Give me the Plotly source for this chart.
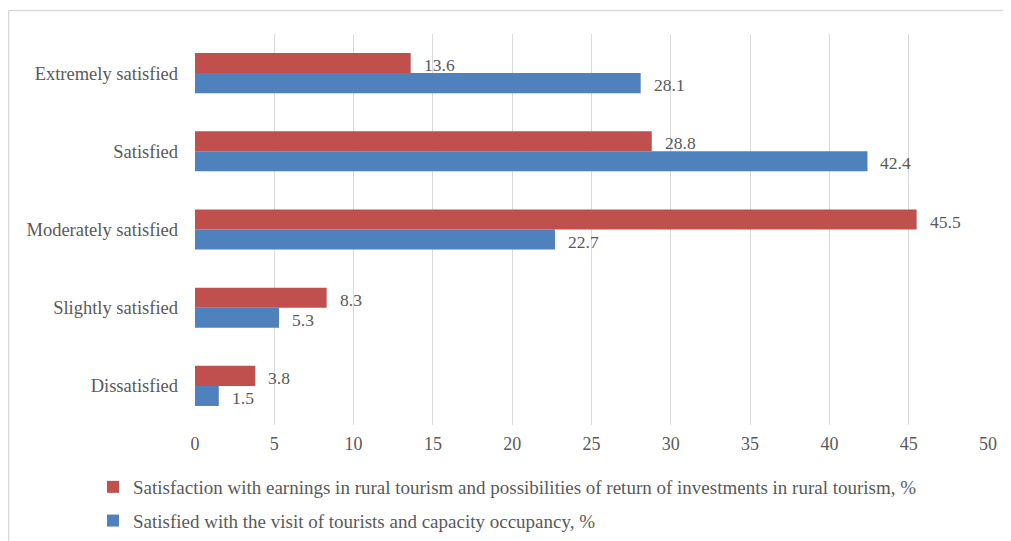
import plotly.graph_objects as go

categories = ["Extremely satisfied", "Satisfied", "Moderately satisfied", "Slightly satisfied", "Dissatisfied"]
earnings = [13.6, 28.8, 45.5, 8.3, 3.8]
visits = [28.1, 42.4, 22.7, 5.3, 1.5]
name_earn = "Satisfaction with earnings in rural tourism and possibilities of return of investments in rural tourism, %"
name_visit = "Satisfied with the visit of tourists and capacity occupancy, %"
x_ticks = [0, 5, 10, 15, 20, 25, 30, 35, 40, 45, 50]

RED = "#C0504D"
BLUE = "#4F81BD"
TXT = "#595959"
GRID = "#D9D9D9"
FONT = "Liberation Serif"

fig = go.Figure()
fig.add_trace(go.Bar(y=categories, x=visits, orientation="h", name=name_visit,
                     legendgroup="visit", legendrank=2,
                     marker=dict(color=BLUE, line=dict(width=0))))
fig.add_trace(go.Bar(y=categories, x=earnings, orientation="h", name=name_earn,
                     legendgroup="earn", legendrank=1,
                     marker=dict(color=RED, line=dict(width=0))))

annotations = []
for c, v in zip(categories, earnings):
    annotations.append(dict(x=v, y=c, xref="x", yref="y", text=f"{v}", showarrow=False,
                            xanchor="left", yanchor="middle", xshift=11, yshift=8,
                            font=dict(family=FONT, size=17.5, color=TXT)))
for c, v in zip(categories, visits):
    annotations.append(dict(x=v, y=c, xref="x", yref="y", text=f"{v}", showarrow=False,
                            xanchor="left", yanchor="middle", xshift=11, yshift=-12,
                            font=dict(family=FONT, size=17.5, color=TXT)))

# page is offset by the 8px body margin
OFF = 8
W, H = 1011 - OFF, 541 - OFF
L, R, T, B = 195 - OFF, 23, 34 - OFF, 116
pw, ph = W - L - R, H - T - B
def px_x(p):
    return (p - OFF - L) / pw
def px_y(p):
    return (H - B - (p - OFF)) / ph

shapes = [
    dict(type="line", xref="paper", yref="paper", x0=px_x(8.5), x1=px_x(1030),
         y0=px_y(10.5), y1=px_y(10.5), line=dict(color=GRID, width=1.5)),
    dict(type="line", xref="paper", yref="paper", x0=px_x(8.5), x1=px_x(8.5),
         y0=px_y(10.5), y1=px_y(580), line=dict(color=GRID, width=1.5)),
]

fig.update_layout(
    width=W, height=H,
    margin=dict(l=L, r=R, t=T, b=B, autoexpand=False),
    paper_bgcolor="white", plot_bgcolor="white",
    barmode="group", bargap=0.487, bargroupgap=0,
    font=dict(family=FONT, size=18, color=TXT),
    xaxis=dict(range=[0, 50], tickvals=x_ticks, showgrid=True, gridcolor=GRID, gridwidth=1,
               zeroline=False, showline=False, ticks="", ticklabelstandoff=6,
               tickfont=dict(family=FONT, size=18, color=TXT), automargin=False),
    yaxis=dict(categoryorder="array", categoryarray=list(reversed(categories)),
               showgrid=False, zeroline=False, showline=False, ticks="",
               ticklabelstandoff=16, tickfont=dict(family=FONT, size=18.5, color=TXT),
               automargin=False),
    legend=dict(orientation="v", traceorder="grouped", tracegroupgap=6,
                x=px_x(93), y=px_y(468),
                xanchor="left", yanchor="top", font=dict(family=FONT, size=19, color=TXT),
                bgcolor="rgba(0,0,0,0)", itemclick=False),
    annotations=annotations,
    shapes=shapes,
    showlegend=True,
)

fig.write_html("out.html")
